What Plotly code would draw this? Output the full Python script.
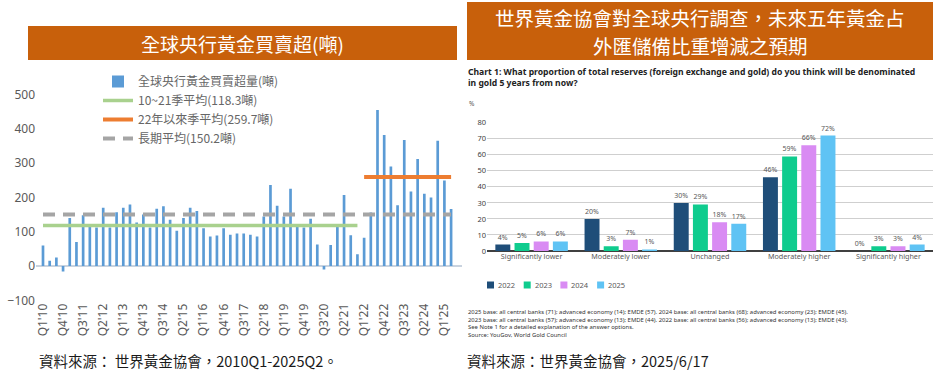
import plotly.graph_objects as go

W, H = 936, 380
def px(x):
    return x / W
def py(y):
    return 1 - y / H

# ---------------- Left chart data ----------------
quarters = [f"Q{q}'{y:02d}" for y in range(10, 26) for q in range(1, 5)][:62]
net_purchases = [60, 15, 25, -16, 140, 70, 148, 114, 112, 170, 112, 157,
                 170, 179, 127, 150, 112, 167, 174, 135, 103, 140, 170, 160,
                 110, 86, 89, 110, 91, 95, 95, 91, 86, 144, 236, 176,
                 144, 225, 114, 112, 138, 63, -10, 61, 114, 207, 90, 34,
                 82, 156, 455, 382, 290, 177, 367, 217, 312, 211, 200, 365,
                 249, 166]
avg_10_21 = 118.3
avg_22_now = 259.7
avg_long = 150.2
tick_every = 3

# ---------------- Right chart data ----------------
answers = ["Significantly lower", "Moderately lower", "Unchanged",
           "Moderately higher", "Significantly higher"]
years = ["2022", "2023", "2024", "2025"]
share_2022 = [4, 20, 30, 46, 0]
share_2023 = [5, 3, 29, 59, 3]
share_2024 = [6, 7, 18, 66, 3]
share_2025 = [6, 1, 17, 72, 4]
year_colors = ["#1F4E79", "#0FCC8E", "#D98BF3", "#5FC3F4"]

ORANGE = "#C8600B"
CJK = "Noto Sans CJK TC"
GRAY = "#595959"

fig = go.Figure()

# ---- left: bars and average lines
idx = list(range(len(quarters)))
fig.add_trace(go.Bar(x=idx, y=net_purchases, width=0.4,
                     marker=dict(color="#5B9BD5", line=dict(width=0)),
                     name="全球央行黃金買賣超量(噸)", legend="legend",
                     xaxis="x", yaxis="y"))
n_hist = 48
fig.add_trace(go.Scatter(x=[idx[0], idx[n_hist - 1]], y=[avg_10_21, avg_10_21],
                         mode="lines", line=dict(color="#A9D18E", width=3.5),
                         name=f"10~21季平均({avg_10_21}噸)", legend="legend",
                         xaxis="x", yaxis="y"))
fig.add_trace(go.Scatter(x=[idx[n_hist], idx[-1]], y=[avg_22_now, avg_22_now],
                         mode="lines", line=dict(color="#ED7D31", width=4),
                         name=f"22年以來季平均({avg_22_now}噸)", legend="legend",
                         xaxis="x", yaxis="y"))
fig.add_trace(go.Scatter(x=[idx[0], idx[-1]], y=[avg_long, avg_long],
                         mode="lines", line=dict(color="#A5A5A5", width=4, dash="12px,8px"),
                         name=f"長期平均({avg_long}噸)", legend="legend",
                         xaxis="x", yaxis="y"))

# ---- right: grouped bars
for yr, vals, col in zip(years, [share_2022, share_2023, share_2024, share_2025], year_colors):
    fig.add_trace(go.Bar(x=answers, y=vals, name=yr, marker=dict(color=col, line=dict(width=0)),
                         text=[f"{v}%" for v in vals], textposition="outside",
                         textfont=dict(size=7, color=GRAY, family="Noto Sans"),
                         cliponaxis=False, showlegend=False,
                         xaxis="x2", yaxis="y2"))

fig.update_layout(
    width=W, height=H, margin=dict(l=0, r=0, t=0, b=0, autoexpand=False),
    paper_bgcolor="white", plot_bgcolor="white",
    barmode="group", bargap=0.14, bargroupgap=0.22,
    font=dict(family=CJK, color=GRAY),
    xaxis=dict(domain=[px(36), px(462)], range=[(36 - 43) / 6.69, (462 - 43) / 6.69],
               tickmode="array", tickvals=idx[::tick_every], ticktext=quarters[::tick_every],
               tickangle=-90, tickfont=dict(size=12, color=GRAY, family="Noto Sans"),
               showgrid=False, zeroline=False, showline=False, ticks="",
               anchor="y", automargin=False),
    yaxis=dict(domain=[py(300.3), py(94.5)], range=[-100, 500], dtick=100,
               tickfont=dict(size=12, color=GRAY, family="Noto Sans"),
               showgrid=False, zeroline=True, zerolinecolor="#C9D3DF", zerolinewidth=1.5,
               showline=False, ticks="", anchor="x", automargin=False),
    xaxis2=dict(domain=[px(487), px(933)], anchor="y2",
                tickfont=dict(size=7.2, color=GRAY, family="Noto Sans"),
                showgrid=False, showline=False, ticks="", automargin=False),
    yaxis2=dict(domain=[py(251), py(122.7)], range=[0, 80], dtick=10, anchor="x2",
                tickfont=dict(size=7.5, color="#404040", family="Noto Sans"),
                showgrid=True, gridcolor="#CFCFCF", gridwidth=1,
                zeroline=True, zerolinecolor="#404040", zerolinewidth=1.5,
                showline=False, ticks="", automargin=False),
    legend=dict(x=px(98), y=py(67), xanchor="left", yanchor="top",
                bgcolor="rgba(0,0,0,0)", font=dict(size=12, color="#666666", family=CJK),
                tracegroupgap=0, itemwidth=30),
    showlegend=True,
)

def note(x, y, text, size, color, family, xanchor="left", yanchor="middle", align="left"):
    fig.add_annotation(xref="paper", yref="paper", x=px(x), y=py(y), text=text,
                       xanchor=xanchor, yanchor=yanchor, align=align, showarrow=False,
                       font=dict(size=size, color=color, family=family))

# ---- banners
fig.add_shape(type="rect", xref="paper", yref="paper", x0=px(28), x1=px(457), y0=py(60), y1=py(26),
              fillcolor=ORANGE, line=dict(width=0), layer="below")
fig.add_shape(type="rect", xref="paper", yref="paper", x0=px(467), x1=px(933), y0=py(60), y1=py(2),
              fillcolor=ORANGE, line=dict(width=0), layer="below")
note(242, 43, "全球央行黃金買賣超(噸)", 19, "white", CJK, xanchor="center", align="center")
note(700, 17.5, "世界黃金協會對全球央行調查，未來五年黃金占", 19.5, "white", CJK,
     xanchor="center", align="center")
note(700, 45.5, "外匯儲備比重增減之預期", 19.5, "white", CJK, xanchor="center", align="center")

# ---- right subtitle and notes
note(466, 64, "<b>Chart 1: What proportion of total reserves (foreign exchange and gold) do you think will be denominated<br>in gold 5 years from now?</b>",
     8.6, "#222222", "Noto Sans", yanchor="top")
note(467, 103, "%", 6.5, GRAY, "Noto Sans")
notes = ["2025 base: all central banks (71); advanced economy (14); EMDE (57). 2024 base: all central banks (68); advanced economy (23); EMDE (45).",
         "2023 base: all central banks (57); advanced economy (13); EMDE (44). 2022 base: all central banks (56); advanced economy (13); EMDE (43).",
         "See Note 1 for a detailed explanation of the answer options.",
         "Source: YouGov, World Gold Council"]
note(466, 306, "<br>".join(notes), 5.9, "#333333", "Noto Sans", yanchor="top")

# ---- right manual legend
for k, (yr, col) in enumerate(zip(years, year_colors)):
    x0 = 487 + k * 36.7
    fig.add_shape(type="rect", xref="paper", yref="paper", x0=px(x0), x1=px(x0 + 7),
                  y0=py(288.5), y1=py(281.5), fillcolor=col, line=dict(width=0))
    note(x0 + 9, 285, yr, 7.5, GRAY, "Noto Sans")

# ---- sources
note(37, 360, "資料來源： 世界黃金協會，2010Q1-2025Q2。", 14.5, "#1a1a1a", CJK)
note(465, 360, "資料來源：世界黃金協會，2025/6/17", 14.5, "#1a1a1a", CJK)

fig.write_html("out.html", config={"displayModeBar": False},
               post_script="document.body.style.margin='0px';document.body.style.overflow='hidden';")
